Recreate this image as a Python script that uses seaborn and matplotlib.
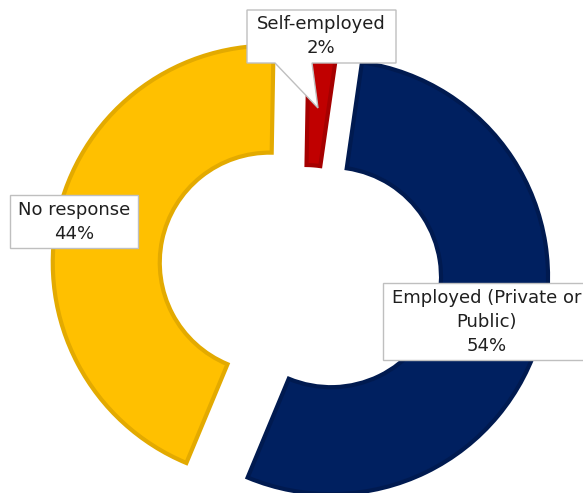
import numpy as np
import matplotlib.pyplot as plt
import seaborn as sns
from matplotlib.patches import Polygon

# data
labels = ["Self-employed", "Employed (Private or Public)", "No response"]
shares = [2, 54, 44]
colors = ["#C00000", "#002060", "#FFC000"]
edges = ["#A50000", "#001A50", "#E3AA00"]
explode = [-5, 27, 36]

W, H = 583, 493
sns.set_theme(style="white")
plt.rcParams['font.family'] = ['DejaVu Sans']

fig = plt.figure(figsize=(W / 100, H / 100), dpi=100)
ax = fig.add_axes([0, 0, 1, 1])

wedges, _ = ax.pie(shares, colors=colors, explode=explode, radius=217,
                   center=(305, H - 270), startangle=89, counterclock=False,
                   wedgeprops=dict(width=107, linewidth=3))
for w, ec in zip(wedges, edges):
    w.set_edgecolor(ec)

ax.set_xlim(0, W)
ax.set_ylim(0, H)
ax.set_aspect('auto')
ax.axis('off')


def Y(y):
    return H - y


box_ec = "#BFBFBF"
txt_c = "#1F1F1F"

# Self-employed callout (box + pointer)
pts = [(247, 10), (396, 10), (396, 63), (312, 63), (318, 108), (275, 63), (247, 63)]
ax.add_patch(Polygon([(x, Y(y)) for x, y in pts], closed=True, fc="white",
                     ec=box_ec, lw=1, zorder=5))
ax.text(321, Y(36), f"{labels[0]}\n{shares[0]}%", ha="center", va="center",
        fontsize=13, color=txt_c, linespacing=1.4, zorder=6)

# No response
ax.add_patch(Polygon([(10, Y(195)), (138, Y(195)), (138, Y(248)), (10, Y(248))],
                     closed=True, fc="white", ec=box_ec, lw=1, zorder=5))
ax.text(74, Y(222), f"{labels[2]}\n{shares[2]}%", ha="center", va="center",
        fontsize=13, color=txt_c, linespacing=1.4, zorder=6)

# Employed
ax.add_patch(Polygon([(383, Y(283)), (591, Y(283)), (591, Y(360)), (383, Y(360))],
                     closed=True, fc="white", ec=box_ec, lw=1, zorder=5))
ax.text(487, Y(322), "Employed (Private or\nPublic)\n" + f"{shares[1]}%",
        ha="center", va="center", fontsize=13, color=txt_c, linespacing=1.4,
        zorder=6)

fig.savefig("out.png", dpi=100)
